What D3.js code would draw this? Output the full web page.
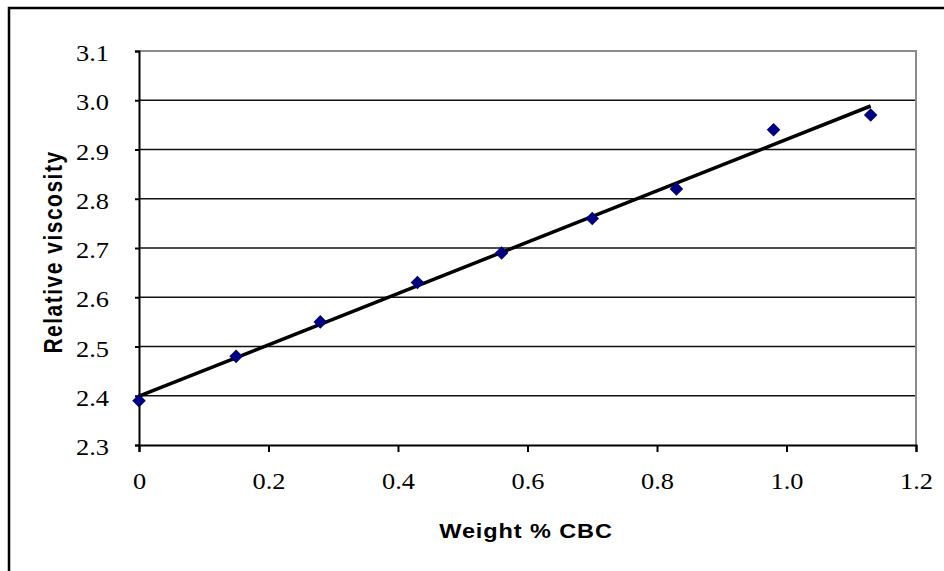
<!DOCTYPE html>
<html>
<head>
<meta charset="utf-8">
<script src="https://cdn.jsdelivr.net/npm/d3@7"></script>
<style>
  html, body { margin: 0; padding: 0; background: #fff; }
  svg { display: block; }
</style>
</head>
<body>
<svg id="chart" width="944" height="571"></svg>
<script>
// Measured samples: CBC loading (weight %) vs relative viscosity
const weightPct = [0, 0.15, 0.28, 0.43, 0.56, 0.70, 0.83, 0.98, 1.13];
const relViscosity = [2.39, 2.48, 2.55, 2.63, 2.69, 2.76, 2.82, 2.94, 2.97];
const xTicks = [0, 0.2, 0.4, 0.6, 0.8, 1.0, 1.2];
const yTicks = [2.3, 2.4, 2.5, 2.6, 2.7, 2.8, 2.9, 3.0, 3.1];
const xTitle = "Weight % CBC";
const yTitle = "Relative viscosity";

const svg = d3.select("#chart");
const W = 944, H = 571;
const plot = { left: 139, right: 916, top: 51, bottom: 445 };
const serif = "'Liberation Serif', 'Times New Roman', serif";
const sans = "'Liberation Sans', Arial, sans-serif";
const stretch = 1.1; // tick labels are set slightly wide

// Outer chart frame (runs past the right and bottom edges)
svg.append("rect")
  .attr("x", 9).attr("y", 8)
  .attr("width", W + 20).attr("height", H + 20)
  .attr("fill", "#fff").attr("stroke", "#000").attr("stroke-width", 2.5);

const x = d3.scaleLinear().domain([0, 1.2]).range([plot.left, plot.right]);
const y = d3.scaleLinear().domain([2.3, 3.1]).range([plot.bottom, plot.top]);

// Horizontal gridlines
svg.append("g")
  .selectAll("line")
  .data(yTicks.filter(t => t > 2.3 && t < 3.1))
  .join("line")
  .attr("x1", plot.left).attr("x2", plot.right)
  .attr("y1", d => y(d)).attr("y2", d => y(d))
  .attr("stroke", "#111").attr("stroke-width", 1.6);

// Plot area top/right border
svg.append("path")
  .attr("d", `M${plot.left},${y(3.1)}H${x(1.2)}V${plot.bottom}`)
  .attr("fill", "none").attr("stroke", "#8c8c8c").attr("stroke-width", 2);

// Y axis
const yAxis = svg.append("g")
  .attr("transform", `translate(${plot.left},0)`)
  .call(d3.axisLeft(y).tickValues(yTicks).tickSize(4).tickPadding(26)
    .tickFormat(d3.format(".1f")));
yAxis.select(".domain").attr("stroke", "#000").attr("stroke-width", 2);
yAxis.selectAll(".tick line").attr("stroke", "#000").attr("stroke-width", 2);
yAxis.selectAll(".tick text")
  .attr("font-family", serif)
  .attr("font-size", 24).attr("fill", "#000")
  .attr("x", -30 / stretch)
  .attr("transform", `scale(${stretch},1)`)
  .attr("dy", "0.4em");

// X axis
const xAxis = svg.append("g")
  .attr("transform", `translate(0,${plot.bottom})`)
  .call(d3.axisBottom(x).tickValues(xTicks).tickSize(7).tickPadding(20)
    .tickFormat(d => d === 0 ? "0" : d3.format(".1f")(d)));
xAxis.select(".domain").attr("stroke", "#000").attr("stroke-width", 2);
xAxis.selectAll(".tick line").attr("stroke", "#000").attr("stroke-width", 2);
xAxis.selectAll(".tick text")
  .attr("font-family", serif)
  .attr("font-size", 24).attr("fill", "#000")
  .attr("transform", `scale(${stretch},1)`)
  .attr("dy", "0.69em");

// Least-squares trendline through the samples
const n = weightPct.length;
const mx = d3.mean(weightPct), my = d3.mean(relViscosity);
let sxy = 0, sxx = 0;
for (let i = 0; i < n; i++) {
  sxy += (weightPct[i] - mx) * (relViscosity[i] - my);
  sxx += (weightPct[i] - mx) ** 2;
}
const slope = sxy / sxx, intercept = my - slope * mx;
const xEnds = [d3.min(weightPct), d3.max(weightPct)];
svg.append("line")
  .attr("x1", x(xEnds[0])).attr("y1", y(intercept + slope * xEnds[0]))
  .attr("x2", x(xEnds[1])).attr("y2", y(intercept + slope * xEnds[1]))
  .attr("stroke", "#000").attr("stroke-width", 3.5);

// Diamond markers
const diamond = d3.symbol().type(d3.symbolSquare).size(92);
svg.append("g")
  .selectAll("path")
  .data(weightPct.map((w, i) => [w, relViscosity[i]]))
  .join("path")
  .attr("d", diamond)
  .attr("transform", d => `translate(${x(d[0])},${y(d[1])}) rotate(45)`)
  .attr("fill", "#000080");

// Axis titles
svg.append("text")
  .attr("transform", `translate(526,538) scale(1.12,1)`)
  .attr("text-anchor", "middle")
  .attr("font-family", sans)
  .attr("font-weight", "bold").attr("font-size", 21)
  .attr("letter-spacing", 0.8)
  .attr("fill", "#000")
  .text(xTitle);

svg.append("text")
  .attr("transform", `translate(62,252) rotate(-90) scale(1,1.2)`)
  .attr("text-anchor", "middle")
  .attr("font-family", sans)
  .attr("font-weight", "bold").attr("font-size", 21)
  .attr("letter-spacing", 1.5)
  .attr("fill", "#000")
  .text(yTitle);
</script>
</body>
</html>
